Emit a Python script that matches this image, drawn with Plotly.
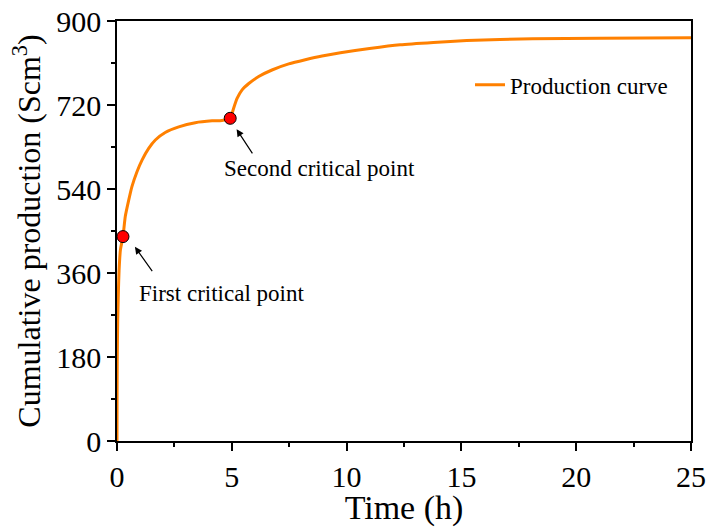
import plotly.graph_objects as go

# Production curve
time_h = [0, 0.003, 0.01, 0.03, 0.06, 0.09, 0.15, 0.26, 0.36, 0.51, 0.65, 0.87, 1.09,
          1.38, 1.67, 2.10, 2.69, 3.41, 4.14, 4.57, 4.93, 5.0, 5.08, 5.23, 5.44, 5.74,
          6.17, 6.75, 7.48, 8.2, 8.93, 9.73, 11.0, 12.33, 13.78, 15.23, 18.1, 21, 25]
production = [0, 90, 170, 255, 320, 365, 410, 438, 481, 516, 545, 577, 602,
              627, 645, 661, 673, 682, 686, 687, 691.5, 700, 713, 734, 752, 766,
              781, 795, 808, 817, 825, 832, 841, 849, 854, 858, 862, 863, 864]

# Critical points
crit_time = [0.26, 4.93]
crit_prod = [438, 691.5]
crit_labels = ["First critical point", "Second critical point"]

x_ticks = [0, 5, 10, 15, 20, 25]
y_ticks = [0, 180, 360, 540, 720, 900]

FONT = "Liberation Serif, Times New Roman, serif"

fig = go.Figure()
fig.add_trace(go.Scatter(
    x=time_h, y=production, mode="lines", name="Production curve",
    line=dict(color="#FF8000", width=3, shape="spline", smoothing=0.5),
))
fig.add_trace(go.Scatter(
    x=crit_time, y=crit_prod, mode="markers", showlegend=False,
    marker=dict(color="#FF0000", size=12, line=dict(color="black", width=1)),
))

# arrows (tail -> head) and labels
arrow_specs = [
    dict(head=(0.78, 416), tail=(1.58, 361), text=(4.57, 317)),
    dict(head=(5.21, 668), tail=(5.94, 613), text=(8.84, 585)),
]
for spec, label in zip(arrow_specs, crit_labels):
    fig.add_annotation(
        x=spec["head"][0], y=spec["head"][1], ax=spec["tail"][0], ay=spec["tail"][1],
        xref="x", yref="y", axref="x", ayref="y", text="", showarrow=True,
        arrowhead=2, arrowsize=1.2, arrowwidth=1.2, arrowcolor="black",
    )
    fig.add_annotation(
        x=spec["text"][0], y=spec["text"][1], xref="x", yref="y", text=label,
        showarrow=False, font=dict(family=FONT, size=23, color="black"),
    )

axis_common = dict(
    showline=True, linecolor="black", linewidth=1.5, mirror=True,
    ticks="outside", ticklen=8, tickwidth=1.5, tickcolor="black",
    showgrid=False, zeroline=False, automargin=False,
    tickfont=dict(family=FONT, size=30, color="black"),
)

fig.update_xaxes(
    range=[0, 25], tickvals=x_ticks, **axis_common,
    minor=dict(ticks="outside", ticklen=4, tickwidth=1.5, tickcolor="black", dtick=2.5),
    title=dict(text="Time (h)", font=dict(family=FONT, size=34, color="black"), standoff=4),
)
fig.update_yaxes(
    range=[0, 900], tickvals=y_ticks, **axis_common,
    minor=dict(ticks="outside", ticklen=4, tickwidth=1.5, tickcolor="black", dtick=90),
    title=dict(text="Cumulative production (Scm<sup>3</sup>)",
               font=dict(family=FONT, size=32, color="black"), standoff=6),
)

fig.update_layout(
    width=707, height=527,
    margin=dict(l=117, r=16, t=21, b=86),
    plot_bgcolor="white", paper_bgcolor="white",
    font=dict(family=FONT, color="black"),
    legend=dict(x=0.615, y=0.848, xanchor="left", yanchor="middle",
                bgcolor="rgba(0,0,0,0)", font=dict(family=FONT, size=23, color="black")),
)

fig.write_html("out.html")
